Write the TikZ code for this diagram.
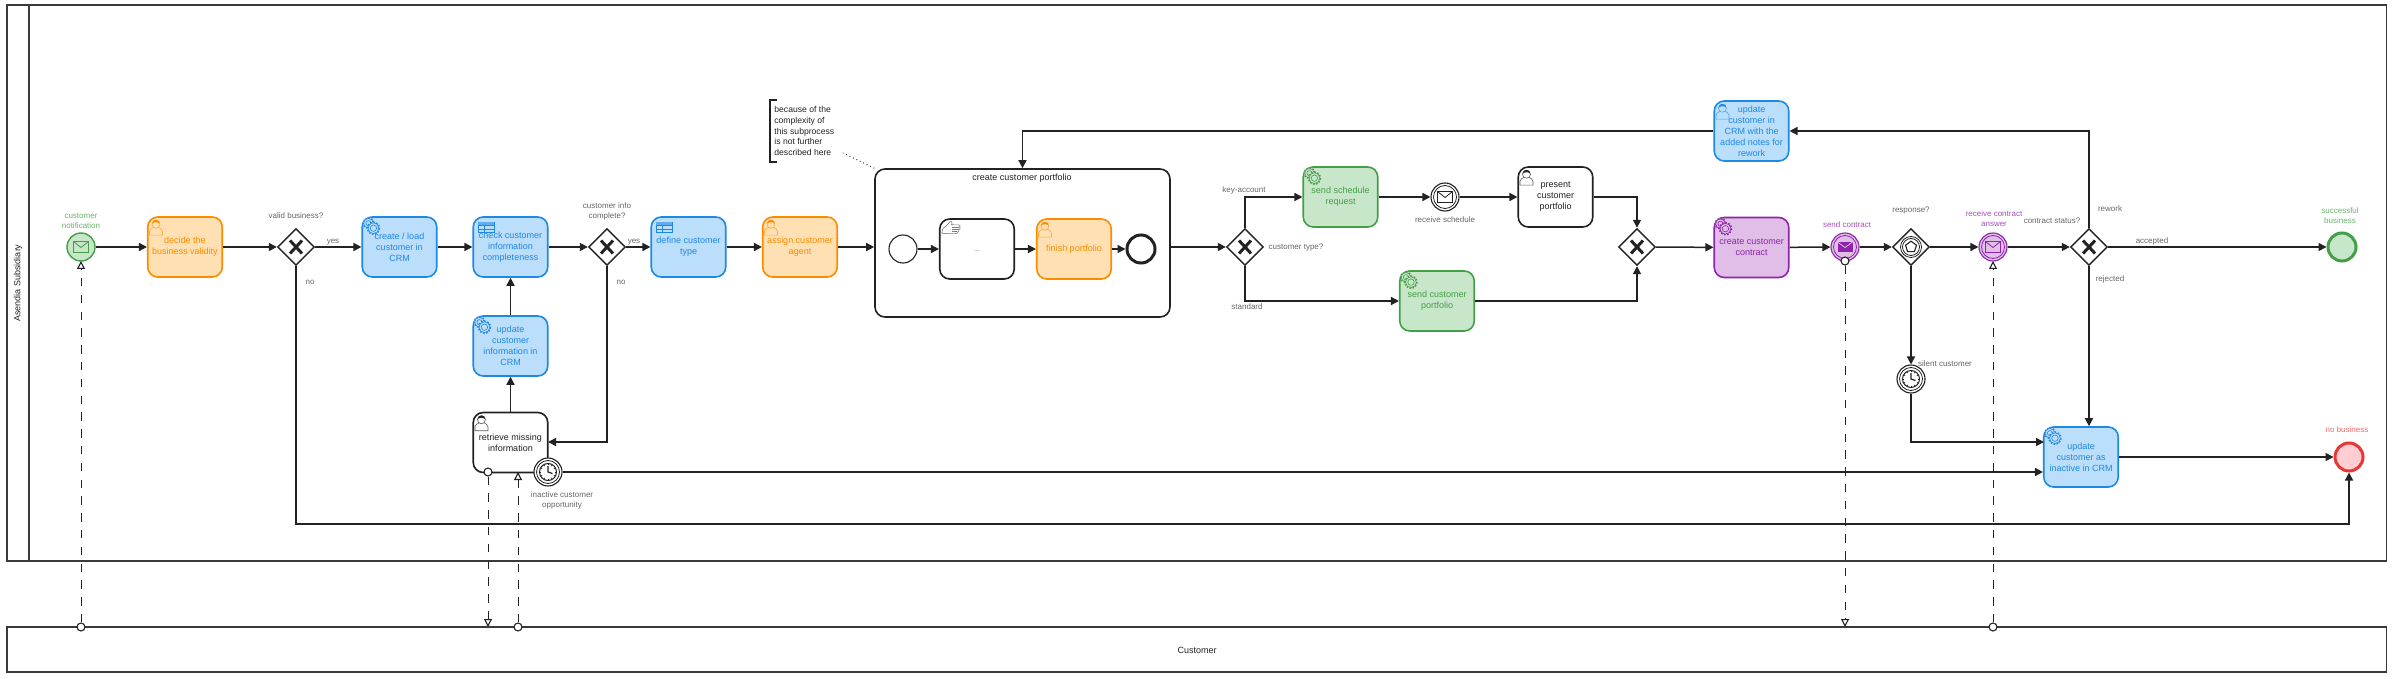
\documentclass[tikz,border=0pt]{standalone}
\usepackage{fontspec}
\setmainfont{Liberation Sans}
\usetikzlibrary{arrows.meta,shapes.geometric}
\definecolor{orS}{HTML}{FB8C00}\definecolor{orF}{HTML}{FFE0B2}
\definecolor{blS}{HTML}{1E88E5}\definecolor{blF}{HTML}{BBDEFB}
\definecolor{grS}{HTML}{43A047}\definecolor{grF}{HTML}{C8E6C9}
\definecolor{puS}{HTML}{8E24AA}\definecolor{puF}{HTML}{E1BEE7}
\definecolor{reS}{HTML}{E53935}\definecolor{reF}{HTML}{FFCDD2}
\definecolor{ink}{HTML}{222222}\definecolor{pooln}{HTML}{3A3A3A}
\definecolor{lblg}{HTML}{666666}
\tikzset{
 task/.style={rectangle,rounded corners=5pt,minimum width=37.25pt,minimum height=30pt,inner sep=0pt,align=center,draw=ink,fill=white,line width=.8pt,text=ink,font=\fontsize{4.5}{5.5}\selectfont},
 orangetask/.style={task,draw=orS,fill=orF,text=orS},
 bluetask/.style={task,draw=blS,fill=blF,text=blS},
 greentask/.style={task,draw=grS,fill=grF,text=grS},
 purpletask/.style={task,draw=puS,fill=puF,text=puS},
 subproc/.style={rectangle,rounded corners=5pt,minimum width=147.5pt,minimum height=74pt,inner sep=0pt,draw=ink,fill=white,line width=.8pt},
 gate/.style={diamond,aspect=1,minimum width=18.5pt,minimum height=18.5pt,inner sep=0pt,draw=ink,fill=white,line width=.7pt},
 ev/.style={circle,minimum size=14pt,inner sep=0pt,draw=ink,fill=white,line width=.55pt},
 endev/.style={ev,line width=1.5pt,minimum size=14pt},
 flow/.style={draw=ink,line width=.75pt,-{Triangle[length=4pt,width=4pt]}},
 msg/.style={draw=ink,line width=.5pt,dash pattern=on 4.2pt off 4.2pt,-{Triangle[open,fill=white,length=4pt,width=4pt,line width=.55pt]}},
 msgdot/.style={circle,minimum size=4pt,inner sep=0pt,draw=ink,fill=white,line width=.55pt},
 lbl/.style={inner sep=0pt,align=center,text=lblg,font=\fontsize{4}{5}\selectfont},
 lblgreen/.style={lbl,text=grS!80!white},
 lblpurple/.style={lbl,text=puS!80!white},
 lblred/.style={lbl,text=reS!75!white},
 pool/.style={rectangle,draw=pooln,line width=.9pt,inner sep=0pt},
}
\newcommand\mkX[1]{\begin{scope}[shift={(#1)}]\draw[ink,line width=1.5pt](-6,-6.5)--(6,6.5)(-6,6.5)--(6,-6.5);\end{scope}}
\newcommand\icUser[3]{\begin{scope}[shift={(#1.north west)}]
 \draw[#2!75!white,line width=.3pt,fill=#3](2.5,19)--(2.5,15)..controls(2.5,12.5)and(5,12.5)..(7,11)--(11.5,11)..controls(13,12.5)and(15.5,12.5)..(15.5,15)--(15.5,19)--cycle;
 \draw[#2!75!white,line width=.3pt,fill=#3](9,8)circle[radius=4];
 \fill[#2](5.2,7.5)..controls(5,2.5)and(13,2.5)..(12.8,7.5)..controls(11,5.5)and(7,5.5)..(5.2,7.5)--cycle;
\end{scope}}
\newcommand\icGear[3]{\begin{scope}[shift={(#1.north west)}]
 \foreach \cx/\cy/\cr in {7/7/4.8,12/12/5.4}{
  \draw[#2,line width=.75pt,dash pattern=on .75pt off .8pt,fill=#3](\cx,\cy)circle[radius=\cr+.6];
  \draw[#2,line width=.3pt,fill=#3](\cx,\cy)circle[radius=\cr];
  \draw[#2,line width=.3pt](\cx,\cy)circle[radius=\cr-2.2];}
\end{scope}}
\newcommand\icTable[1]{\begin{scope}[shift={(#1.north west)}]
 \draw[blS,line width=.4pt](6,6)rectangle(22,16);
 \fill[blS!70!white](6,6)rectangle(22,8.5);
 \draw[blS,line width=.35pt](6,9.5)--(22,9.5)(6,12.8)--(22,12.8)(11.5,9.5)--(11.5,16);
\end{scope}}
\newcommand\icHand[1]{\begin{scope}[shift={(#1.north west)}]
 \draw[ink!60!white,line width=.3pt,fill=white](3,15)..controls(3,11)and(4,10)..(7,8)--(11,3.5)..controls(12.5,2.5)and(14,4)..(13,5.5)--(12.5,6.5)--(20,6.8)..controls(21.5,7)and(21.5,8.5)..(20.5,9)--(21,9.5)..controls(21.5,10.5)and(21,11.5)..(20,11.5)..controls(20.5,12.5)and(19.5,14)..(18.5,14)..controls(18.5,15)and(17.5,15.5)..(16,15.5)--(9,15.5)--(3,15);
 \draw[ink!60!white,line width=.25pt](13,8.8)--(20,8.8)(13,11)--(20,11)(13,13.3)--(18.5,13.3);
\end{scope}}
\newcommand\icEnv[3]{\begin{scope}[shift={(#1)}]
 \draw[#2,line width=.4pt,fill=#3](-7.5,-5.5)rectangle(7.5,5.5);
 \draw[#2,line width=.4pt](-7.5,-5.5)--(0,.5)--(7.5,-5.5);
\end{scope}}
\newcommand\icEnvSolid[1]{\begin{scope}[shift={(#1)}]
 \fill[puS](-7.5,-5)rectangle(7.5,5.5);
 \draw[puF,line width=.4pt](-7.5,-5)--(0,.5)--(7.5,-5);
\end{scope}}
\newcommand\ring[3]{\draw[#2,line width=.4pt](#1)circle[radius=#3];}
\newcommand\icClock[1]{\begin{scope}[shift={(#1)}]
 \draw[ink,line width=.4pt](0,0)circle[radius=11.5];
 \draw[ink,line width=.5pt](0,0)circle[radius=8.5];
 \foreach \a in {0,30,...,330}{\draw[ink,line width=.35pt](\a:6.8)--(\a:8.5);}
 \draw[ink,line width=.6pt](0,-6)--(0,0)--(4.5,1.5);
\end{scope}}
\newcommand\icPenta[1]{\begin{scope}[shift={(#1)}]
 \draw[ink,line width=.4pt](0,0)circle[radius=10.5];
 \draw[ink,line width=.4pt](0,0)circle[radius=8.5];
 \draw[ink,line width=.55pt](0,-5.8)--(5.5,-1.8)--(3.4,4.7)--(-3.4,4.7)--(-5.5,-1.8)--cycle;
\end{scope}}
\begin{document}
\begin{tikzpicture}[x=.5pt,y=-.5pt]
\useasboundingbox (0,0) rectangle (2393,679);
% pools
\node[pool,minimum width=1189.75pt,minimum height=278pt] (mainpool) at (1196.75,283) {};
\node[pool,minimum width=11pt,minimum height=278pt] (lanehead) at (18,283) {};
\node[pool,minimum width=1189.75pt,minimum height=22.5pt,line width=.7pt] (custpool) at (1196.75,649.5) {};
\node[rotate=90,inner sep=0pt,text=ink,font=\fontsize{4.5}{5.5}\selectfont] (poolname) at (18,283) {Asendia Subsidiary};
\node[inner sep=0pt,text=ink,font=\fontsize{4.5}{5.5}\selectfont] (custname) at (1197,650) {Customer};
% tasks
\node[orangetask] (decide) at (185,247) {decide the\\business validity};
\node[bluetask] (create) at (399.5,247) {create / load\\customer in\\CRM};
\node[bluetask] (check) at (510.5,247) {check customer\\information\\completeness};
\node[bluetask] (define) at (688.5,247) {define customer\\type};
\node[orangetask] (assign) at (800,247) {assign customer\\agent};
\node[bluetask] (update) at (510.5,346) {update\\customer\\information in\\CRM};
\node[task] (retrieve) at (510.5,442.5) {retrieve missing\\information};
\node[subproc] (sub) at (1022.5,243) {};
\node[task] (manual) at (977,249) {};
\node[orangetask] (finish) at (1074,249) {finish portfolio};
\node[greentask] (sched) at (1340.5,197) {send schedule\\request};
\node[task] (present) at (1555.5,197) {present\\customer\\portfolio};
\node[greentask] (cportfolio) at (1437,301) {send customer\\portfolio};
\node[purpletask] (contract) at (1751.5,247.5) {create customer\\contract};
\node[bluetask] (rework) at (1751.5,131) {update\\customer in\\CRM with the\\added notes for\\rework};
\node[bluetask] (inactive) at (2081,457) {update\\customer as\\inactive in CRM};
% events
\node[ev,draw=grS,fill=grF,line width=.7pt] (start) at (81,247) {};
\node[ev] (substart) at (903,249) {};
\node[endev] (subend) at (1141,249) {};
\node[ev] (recvsched) at (1445,197) {};
\node[ev,draw=puS,fill=puF] (sendc) at (1845,247) {};
\node[ev,draw=puS,fill=puF] (recvc) at (1993,247) {};
\node[ev] (silent) at (1911,379) {};
\node[ev] (timer) at (548,472) {};
\node[endev,draw=grS,fill=grF] (success) at (2342,247) {};
\node[endev,draw=reS,fill=reF] (nobiz) at (2349,457) {};
% gateways
\node[gate] (gw1) at (296,247) {};
\node[gate] (gw2) at (607,247) {};
\node[gate] (gw3) at (1245,247) {};
\node[gate] (gw4) at (1637,247) {};
\node[gate] (egw) at (1911,247) {};
\node[gate] (gw5) at (2089,247) {};
\mkX{gw1}\mkX{gw2}\mkX{gw3}\mkX{gw4}\mkX{gw5}
\icPenta{egw}
% icons
\icUser{decide}{orS}{orF}\icUser{assign}{orS}{orF}\icUser{finish}{orS}{orF}
\icUser{rework}{blS}{blF}\icUser{retrieve}{ink}{white}\icUser{present}{ink}{white}
\icGear{create}{blS}{blF}\icGear{update}{blS}{blF}\icGear{inactive}{blS}{blF}
\icGear{sched}{grS}{grF}\icGear{cportfolio}{grS}{grF}\icGear{contract}{puS}{puF}
\icTable{check}\icTable{define}\icHand{manual}
\icEnv{start}{grS}{grF}
\icEnv{recvsched}{ink}{white}
\icEnv{recvc}{puS}{puF}
\icEnvSolid{sendc}
\ring{recvsched}{ink}{11.5}\ring{sendc}{puS}{11.5}\ring{recvc}{puS}{11.5}
\icClock{timer}\icClock{silent}
% helper coordinates
\coordinate (looprow) at (1000,524);
\coordinate (gw2in) at (548,442);
\coordinate (in1) at (2044,442);
% sequence flows
\draw[flow] (start) -- (decide);
\draw[flow] (decide) -- (gw1);
\draw[flow] (gw1) -- (create);
\draw[flow] (create) -- (check);
\draw[flow] (check) -- (gw2);
\draw[flow] (gw2) -- (define);
\draw[flow] (define) -- (assign);
\draw[flow] (assign.east) -- (assign.east -| sub.west);
\draw[flow] (update) -- (check);
\draw[flow] (retrieve) -- (update);
\draw[flow] (gw2.south) |- (gw2in);
\draw[flow] (gw1.south) -- (gw1.south |- looprow) -- (nobiz.south |- looprow) -- (nobiz.south);
\draw[flow] (substart) -- (manual);
\draw[flow] (manual) -- (finish);
\draw[flow] (finish) -- (subend);
\draw[flow] (sub.east |- gw3) -- (gw3);
\draw[flow] (gw3.north) |- (sched.west);
\draw[flow] (gw3.south) |- (cportfolio.west);
\draw[flow] (sched) -- (recvsched);
\draw[flow] (recvsched) -- (present);
\draw[flow] (present.east) -| (gw4.north);
\draw[flow] (cportfolio.east) -| (gw4.south);
\draw[flow] (gw4) -- (contract);
\draw[flow] (contract) -- (sendc);
\draw[flow] (sendc) -- (egw);
\draw[flow] (egw) -- (recvc);
\draw[flow] (recvc) -- (gw5);
\draw[flow] (gw5) -- (success);
\draw[flow] (gw5.north) |- (rework.east);
\draw[flow] (rework.west) -| (sub.north);
\draw[flow] (gw5.south) -- (gw5.south |- inactive.north);
\draw[flow] (egw.south) -- (silent.north);
\draw[flow] (silent.south) |- (in1);
\draw[flow] (timer.east) -- (timer.east -| inactive.west);
\draw[flow] (inactive) -- (nobiz);
% message flows
\node[msgdot] (m1) at (81,627) {};
\node[msgdot] (m2) at (488,472) {};
\node[msgdot] (m3) at (518,627) {};
\node[msgdot] (m4) at (1845,261) {};
\node[msgdot] (m5) at (1993,627) {};
\coordinate (t1) at (81,261);
\coordinate (t2) at (488,627);
\coordinate (t3) at (518,472);
\coordinate (t4) at (1845,627);
\coordinate (t5) at (1993,261);
\draw[msg] (m1) -- (t1);
\draw[msg] (m2) -- (t2);
\draw[msg] (m3) -- (t3);
\draw[msg] (m4) -- (t4);
\draw[msg] (m5) -- (t5);
% annotation
\node[anchor=west,inner sep=0pt,align=left,text=ink,font=\fontsize{4.3}{5.3}\selectfont] (note) at (774,131) {because of the\\complexity of\\this subprocess\\is not further\\described here};
\coordinate (br1) at (777,100);
\coordinate (br2) at (770,162);
\coordinate (br3) at (777,162);
\coordinate (assoc) at (843,153);
\draw[ink,line width=.55pt] (br1) -| (br2) -- (br3);
\draw[ink,line width=.55pt,line cap=round,dash pattern=on .1pt off 1.8pt] (assoc) -- (sub.north west);
% labels
\node[lbl,text=ink,font=\fontsize{4.5}{5}\selectfont] (subname) at (1022,178) {create customer portfolio};
\node[lbl,font=\fontsize{3.6}{5}\selectfont] (dots) at (977,251) {...};
\node[lblgreen] (l1) at (81,221) {customer\\notification};
\node[lbl] (l2) at (296,216) {valid business?};
\node[lbl] (l3) at (333,242) {yes};
\node[lbl] (l4) at (310,282) {no};
\node[lbl] (l5) at (607,211) {customer info\\complete?};
\node[lbl] (l6) at (634,242) {yes};
\node[lbl] (l7) at (621,282) {no};
\node[lbl] (l8) at (562,500) {inactive customer\\opportunity};
\node[lbl] (l9) at (1244,190) {key-account};
\node[lbl] (l10) at (1296,248) {customer type?};
\node[lbl] (l11) at (1247,307) {standard};
\node[lbl] (l12) at (1445,220) {receive schedule};
\node[lblpurple] (l13) at (1847,225) {send contract};
\node[lbl] (l14) at (1911,211) {response?};
\node[lblpurple] (l15) at (1994,219) {receive contract\\answer};
\node[lbl] (l16) at (2052,221) {contract status?};
\node[lbl] (l17) at (2110,209) {rework};
\node[lbl] (l18) at (2152,241) {accepted};
\node[lbl] (l19) at (2110,279) {rejected};
\node[lbl] (l20) at (1945,364) {silent customer};
\node[lblgreen] (l21) at (2340,216) {successful\\business};
\node[lblred] (l22) at (2347,430) {no business};
\end{tikzpicture}
\end{document}
